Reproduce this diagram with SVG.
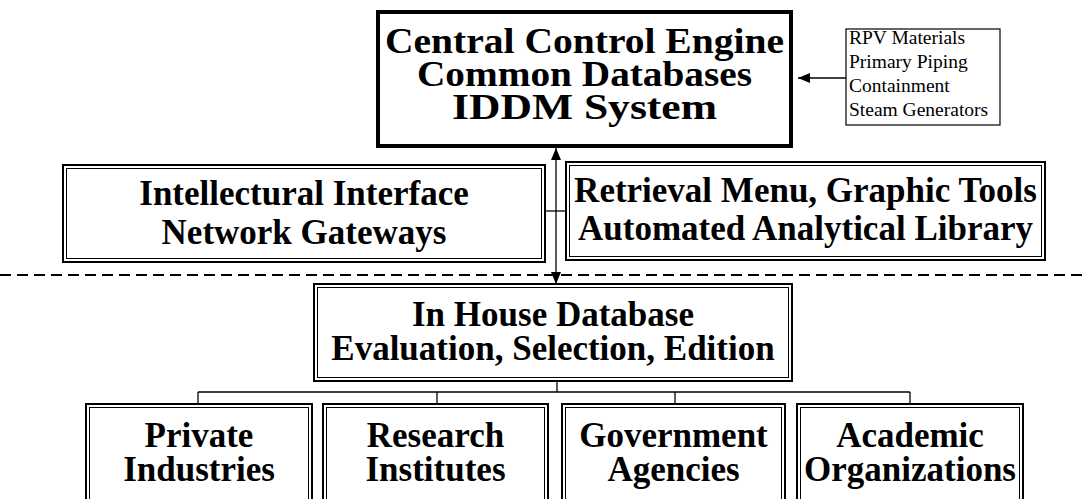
<svg xmlns="http://www.w3.org/2000/svg" width="1082" height="499" viewBox="0 0 1082 499">
  <style>
    .bg { fill: #ffffff; }
    .frame-thick { fill: none; stroke: #000; stroke-width: 4; }
    .frame-outer { fill: none; stroke: #000; stroke-width: 2; }
    .frame-inner { fill: none; stroke: #000; stroke-width: 1; }
    .frame-thin { fill: none; stroke: #000; stroke-width: 1.2; }
    .line { fill: none; stroke: #000; stroke-width: 1.3; }
    .dash { fill: none; stroke: #000; stroke-width: 2.2; stroke-dasharray: 11 6; }
    .big { font-family: "Liberation Serif", "Times New Roman", serif; font-weight: bold; font-size: 35px; fill: #000; text-anchor: middle; }
    .mid { font-family: "Liberation Serif", "Times New Roman", serif; font-weight: bold; font-size: 35px; fill: #000; text-anchor: middle; }
    .small { font-family: "Liberation Serif", "Times New Roman", serif; font-size: 19.5px; fill: #000; }
  </style>
  <defs>
    <marker id="head" viewBox="0 0 12 10" refX="12" refY="5" markerWidth="12" markerHeight="10" markerUnits="userSpaceOnUse" orient="auto-start-reverse">
      <path d="M0,0 L12,5 L0,10 Z" fill="#000"/>
    </marker>
  </defs>

  <rect class="bg" x="0" y="0" width="1082" height="499"/>

  <!-- separator between front-end and back-end layers -->
  <line class="dash" x1="0" y1="275" x2="1082" y2="275"/>

  <g id="connectors">
    <!-- materials list feeding the engine -->
    <line class="line" x1="846" y1="78" x2="798" y2="78" marker-end="url(#head)"/>
    <!-- engine <-> in-house database -->
    <line class="line" x1="556" y1="148" x2="556" y2="284" marker-start="url(#head)" marker-end="url(#head)"/>
    <!-- link between the two interface boxes -->
    <line class="line" x1="545" y1="211" x2="566" y2="211"/>
    <!-- source tree -->
    <line class="line" x1="557" y1="381" x2="557" y2="392"/>
    <line class="line" x1="198" y1="392" x2="910" y2="392"/>
    <line class="line" x1="198" y1="392" x2="198" y2="404"/>
    <line class="line" x1="437" y1="392" x2="437" y2="404"/>
    <line class="line" x1="675" y1="392" x2="675" y2="404"/>
    <line class="line" x1="910" y1="392" x2="910" y2="404"/>
  </g>

  <g id="engine">
    <rect class="frame-thick" x="378" y="12" width="413" height="134"/>
    <text class="big" x="584.5" y="53" textLength="399" lengthAdjust="spacingAndGlyphs">Central Control Engine</text>
    <text class="big" x="584.5" y="86" textLength="335" lengthAdjust="spacingAndGlyphs">Common Databases</text>
    <text class="big" x="584.5" y="119" textLength="265" lengthAdjust="spacingAndGlyphs">IDDM System</text>
  </g>

  <g id="materials">
    <rect class="frame-thin" x="846" y="29" width="154" height="96"/>
    <text class="small" x="849" y="44">RPV Materials</text>
    <text class="small" x="849" y="68">Primary Piping</text>
    <text class="small" x="849" y="92">Containment</text>
    <text class="small" x="849" y="116">Steam Generators</text>
  </g>

  <g id="interface">
    <rect class="frame-outer" x="63" y="165" width="482" height="97"/>
    <rect class="frame-inner" x="66.5" y="168.5" width="475" height="90"/>
    <text class="mid" x="304" y="205">Intellectural Interface</text>
    <text class="mid" x="304" y="244">Network Gateways</text>
  </g>

  <g id="retrieval">
    <rect class="frame-outer" x="566" y="162" width="479" height="98"/>
    <rect class="frame-inner" x="569.5" y="165.5" width="472" height="91"/>
    <text class="mid" x="805.5" y="202">Retrieval Menu, Graphic Tools</text>
    <text class="mid" x="805.5" y="240">Automated Analytical Library</text>
  </g>

  <g id="inhouse">
    <rect class="frame-outer" x="314" y="284" width="478" height="97"/>
    <rect class="frame-inner" x="317.5" y="287.5" width="471" height="90"/>
    <text class="mid" x="553" y="326">In House Database</text>
    <text class="mid" x="553" y="360">Evaluation, Selection, Edition</text>
  </g>

  <g id="private">
    <rect class="frame-outer" x="86" y="404" width="226" height="110"/>
    <rect class="frame-inner" x="89.5" y="407.5" width="219" height="103"/>
    <text class="mid" x="199" y="447">Private</text>
    <text class="mid" x="199" y="481">Industries</text>
  </g>

  <g id="research">
    <rect class="frame-outer" x="323" y="404" width="225" height="110"/>
    <rect class="frame-inner" x="326.5" y="407.5" width="218" height="103"/>
    <text class="mid" x="435.5" y="447">Research</text>
    <text class="mid" x="435.5" y="481">Institutes</text>
  </g>

  <g id="government">
    <rect class="frame-outer" x="562" y="404" width="223" height="110"/>
    <rect class="frame-inner" x="565.5" y="407.5" width="216" height="103"/>
    <text class="mid" x="673.5" y="447">Government</text>
    <text class="mid" x="673.5" y="481">Agencies</text>
  </g>

  <g id="academic">
    <rect class="frame-outer" x="797" y="404" width="226" height="110"/>
    <rect class="frame-inner" x="800.5" y="407.5" width="219" height="103"/>
    <text class="mid" x="910" y="447">Academic</text>
    <text class="mid" x="910" y="481">Organizations</text>
  </g>
</svg>
